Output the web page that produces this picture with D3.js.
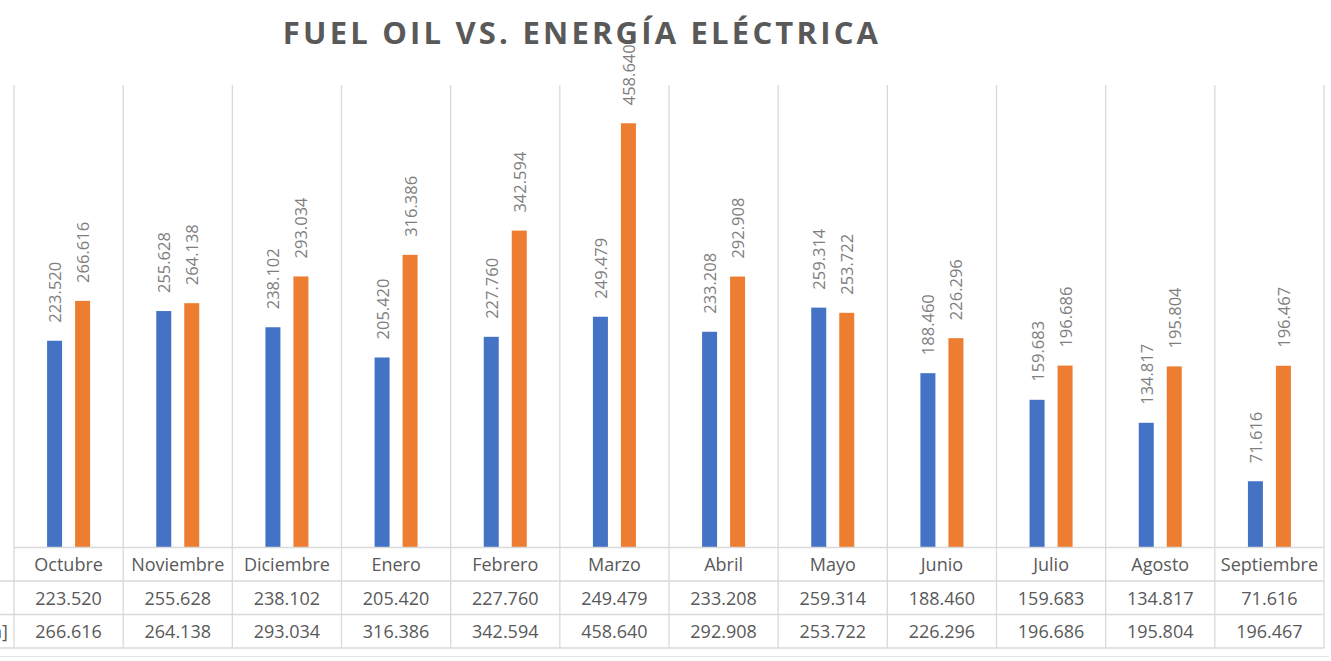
<!DOCTYPE html>
<html>
<head>
<meta charset="utf-8">
<script src="https://cdn.jsdelivr.net/npm/d3@7/dist/d3.min.js"></script>
<style>
  html, body { margin: 0; padding: 0; background: #fff; }
  svg { display: block; }
</style>
</head>
<body>
<svg id="chart" width="1331" height="661"></svg>
<script>
// Monthly consumption: fuel oil vs. electric energy
const months = ["Octubre", "Noviembre", "Diciembre", "Enero", "Febrero", "Marzo",
                "Abril", "Mayo", "Junio", "Julio", "Agosto", "Septiembre"];
const fuelOil = [223.520, 255.628, 238.102, 205.420, 227.760, 249.479,
                 233.208, 259.314, 188.460, 159.683, 134.817, 71.616];
const energia = [266.616, 264.138, 293.034, 316.386, 342.594, 458.640,
                 292.908, 253.722, 226.296, 196.686, 195.804, 196.467];
const seriesNames = ["Fuel Oil [gal]", "Energía Eléctrica [kWh]"];
const seriesColors = ["#4472C4", "#ED7D31"];
const yDomain = [0, 500];
const titleText = "FUEL OIL VS. ENERGÍA ELÉCTRICA";

const svg = d3.select("#chart");
const W = 1331, H = 661;

const plot = { left: 14, right: 1324, top: 85, bottom: 547.5 };
const rowH = 33.5;
const fmt = d3.format(".3f");

const x = d3.scaleBand().domain(months).range([plot.left, plot.right]).padding(0);
const y = d3.scaleLinear().domain(yDomain).range([plot.bottom, plot.top]);

const gridColor = "#d9d9d9";
const textColor = "#595959";
const labelColor = "#7f7f7f";
const font = "'Open Sans', 'Noto Sans', sans-serif";

// Title
svg.append("text")
  .attr("x", 582).attr("y", 44)
  .attr("text-anchor", "middle")
  .attr("font-family", font)
  .attr("font-weight", 700)
  .attr("font-size", 31)
  .attr("letter-spacing", 3.2)
  .attr("fill", textColor)
  .text(titleText);

// Vertical category separators
const bounds = months.map(m => x(m)).concat([plot.right]);
svg.append("g").selectAll("line").data(bounds).join("line")
  .attr("x1", d => d).attr("x2", d => d)
  .attr("y1", plot.top).attr("y2", plot.bottom + rowH * 3)
  .attr("stroke", gridColor).attr("stroke-width", 1.3);

// Bars
const bw = 15, gap = 13;
const series = [fuelOil, energia];
series.forEach((vals, si) => {
  const offset = si === 0 ? -(gap / 2 + bw) : gap / 2;
  const g = svg.append("g");
  g.selectAll("rect").data(vals).join("rect")
    .attr("x", (d, i) => x(months[i]) + x.bandwidth() / 2 + offset)
    .attr("y", d => y(d))
    .attr("width", bw)
    .attr("height", d => y(0) - y(d))
    .attr("fill", seriesColors[si]);
  g.selectAll("text").data(vals).join("text")
    .attr("transform", (d, i) => {
      const cx = x(months[i]) + x.bandwidth() / 2 + offset + bw / 2;
      return `translate(${cx},${y(d) - 18}) rotate(-90)`;
    })
    .attr("dominant-baseline", "central")
    .attr("font-family", font)
    .attr("font-size", 16.5)
    .attr("fill", labelColor)
    .text(d => fmt(d));
});

// Data table
const tableRows = [plot.bottom, plot.bottom + rowH, plot.bottom + 2 * rowH, plot.bottom + 3 * rowH];
svg.append("g").selectAll("line").data(tableRows).join("line")
  .attr("x1", (d, i) => i === 0 ? plot.left : 0)
  .attr("x2", plot.right)
  .attr("y1", d => d).attr("y2", d => d)
  .attr("stroke", gridColor).attr("stroke-width", 1.3);

// Outer frame line below the table
svg.append("line")
  .attr("x1", 0).attr("x2", W - 2)
  .attr("y1", 656.5).attr("y2", 656.5)
  .attr("stroke", "#e3e3e3").attr("stroke-width", 1.2);

const tfont = 18;
svg.append("g").selectAll("text").data(months).join("text")
  .attr("x", d => x(d) + x.bandwidth() / 2)
  .attr("y", plot.bottom + rowH / 2)
  .attr("text-anchor", "middle")
  .attr("dominant-baseline", "central")
  .attr("font-family", font)
  .attr("font-size", tfont)
  .attr("fill", textColor)
  .text(d => d);

series.forEach((vals, si) => {
  const cy = plot.bottom + rowH * (si + 1) + rowH / 2;
  svg.append("g").selectAll("text").data(vals).join("text")
    .attr("x", (d, i) => x(months[i]) + x.bandwidth() / 2)
    .attr("y", cy)
    .attr("text-anchor", "middle")
    .attr("dominant-baseline", "central")
    .attr("font-family", font)
    .attr("font-size", tfont)
    .attr("fill", textColor)
    .text(d => fmt(d));
});

// Row headers (series names), right edge sits at the chart's left border
const rowLabels = svg.append("g").selectAll("text").data(seriesNames).join("text")
  .attr("y", (d, i) => plot.bottom + rowH * (i + 1) + rowH / 2)
  .attr("dominant-baseline", "central")
  .attr("font-family", font)
  .attr("font-size", tfont)
  .attr("fill", textColor)
  .text(d => d);
const longest = d3.max(rowLabels.nodes(), n => n.getComputedTextLength());
rowLabels.attr("x", 8 - longest);
</script>
</body>
</html>
